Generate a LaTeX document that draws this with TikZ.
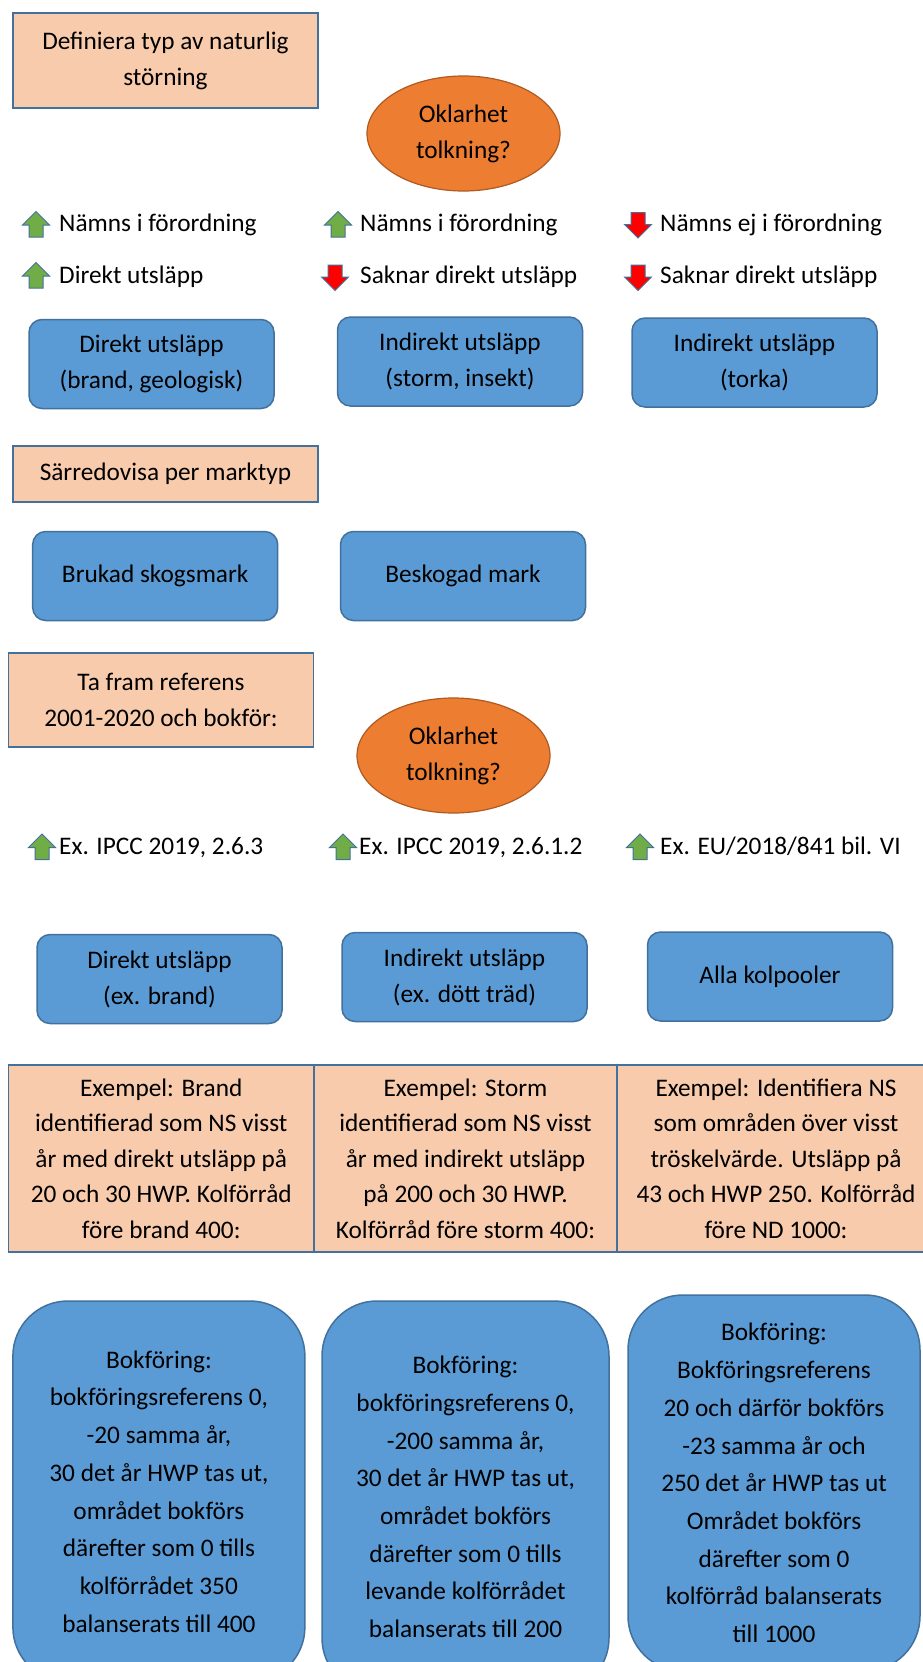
\documentclass[tikz,border=0pt]{standalone}
\usepackage{fontspec}
\setmainfont{Carlito}
\usetikzlibrary{shapes.geometric}

\definecolor{tanfill}{HTML}{F8CBAD}
\definecolor{blueline}{HTML}{41719C}
\definecolor{bluefill}{HTML}{5B9BD5}
\definecolor{orangefill}{HTML}{ED7D31}
\definecolor{orangeline}{HTML}{AE5A21}
\definecolor{greenfill}{HTML}{70AD47}
\definecolor{redfill}{HTML}{FF0000}

\begin{document}
\begin{tikzpicture}[x=1pt,y=-1pt,
    every node/.style={font=\fontsize{25.3}{36}\selectfont,align=center,inner sep=0pt,text=black},
    icon/.style={draw=blueline,line width=1pt,line join=miter}]

      \useasboundingbox[fill=white] (0,0) rectangle (923,1662);
      \clip (0,0) rectangle (923,1662);

      \begin{scope}[every node/.append style={rectangle,draw=blueline,fill=tanfill,line width=1.8pt,minimum width=305pt}]
        \node[minimum height=95pt] (define)    at (165.4,60.6) {Definiera typ av naturlig\\störning};
        \node[minimum height=56pt] (split)     at (165.4,473.8) {Särredovisa per marktyp};
        \node[minimum height=94pt] (reference) at (161,700) {Ta fram referens\\2001-2020 och bokför:};
      \end{scope}

      \begin{scope}[every node/.append style={ellipse,draw=orangeline,fill=orangefill,line width=1.2pt,minimum width=193pt,minimum height=115pt}]
        \node (unclear1) at (463.5,133.5) {Oklarhet\\tolkning?};
        \node (unclear2) at (453.5,755.5) {Oklarhet\\tolkning?};
      \end{scope}

      \foreach \x/\y in {36/224.5, 338/224.5, 36/275.5, 42/847, 343/847, 640/847}
        \draw[icon,fill=greenfill] (\x,\y) ++(0,-13) -- ++(13.5,13.5) -- ++(-6.5,0) -- ++(0,12) -- ++(-14,0) -- ++(0,-12) -- ++(-6.5,0) -- cycle;
      \foreach \x/\y in {638/225, 335/277.5, 638/277.5}
        \draw[icon,fill=redfill] (\x,\y) ++(0,13) -- ++(13.5,-13.5) -- ++(-6.5,0) -- ++(0,-12) -- ++(-14,0) -- ++(0,12) -- ++(-6.5,0) -- cycle;

      \begin{scope}[every node/.append style={anchor=west,text height=17pt,text depth=5pt}]
        \node (mention1) at (59,225.5) {Nämns i förordning};
        \node (mention2) at (360,225.5) {Nämns i förordning};
        \node (mention3) at (660,225.5) {Nämns ej i förordning};
        \node (direct1)  at (59,277.5) {Direkt utsläpp};
        \node (direct2)  at (360,277.5) {Saknar direkt utsläpp};
        \node (direct3)  at (660,277.5) {Saknar direkt utsläpp};
        \node (source1)  at (59,848) {Ex. IPCC 2019, 2.6.3};
        \node (source2)  at (359,848) {Ex. IPCC 2019, 2.6.1.2};
        \node (source3)  at (660,848) {Ex. EU/2018/841 bil. VI};
      \end{scope}

      \begin{scope}[every node/.append style={rectangle,rounded corners=13pt,draw=blueline,fill=bluefill,line width=1.5pt,minimum width=245pt,minimum height=89pt}]
        \node (direct)   at (151.5,364) {Direkt utsläpp\\(brand, geologisk)};
        \node (indirect) at (460,361.5) {Indirekt utsläpp\\(storm, insekt)};
        \node (drought)  at (754.5,362.5) {Indirekt utsläpp\\(torka)};
        \node (managed)  at (155.2,576) {Brukad skogsmark};
        \node (afforest) at (463,576) {Beskogad mark};
        \node (fire)     at (159.5,979) {Direkt utsläpp\\(ex. brand)};
        \node (deadwood) at (464.5,977) {Indirekt utsläpp\\(ex. dött träd)};
        \node (pools)    at (770,976.5) {Alla kolpooler};
      \end{scope}

      \begin{scope}[every node/.append style={rectangle,draw=blueline,fill=tanfill,line width=1.5pt,minimum height=187pt,font=\fontsize{25.3}{35.5}\selectfont}]
        \node[minimum width=305.5pt] (exfire)  at (161.25,1158.5) {Exempel: Brand\\identifierad som NS visst\\år med direkt utsläpp på\\20 och 30 HWP. Kolförråd\\före brand 400:};
        \node[minimum width=303pt]   (exstorm) at (465.5,1158.5) {Exempel: Storm\\identifierad som NS visst\\år med indirekt utsläpp\\på 200 och 30 HWP.\\Kolförråd före storm 400:};
        \node[minimum width=318pt]   (exns)    at (776,1158.5) {Exempel: Identifiera NS\\som områden över visst\\tröskelvärde. Utsläpp på\\43 och HWP 250. Kolförråd\\före ND 1000:};
      \end{scope}

      \begin{scope}[every node/.append style={rectangle,rounded corners=55pt,draw=blueline,fill=bluefill,line width=1.5pt,font=\fontsize{25.3}{37.7}\selectfont}]
        \node[minimum width=292pt,minimum height=381pt] (bookfire)  at (158.9,1491.5) {Bokföring:\\bokföringsreferens 0,\\-20 samma år,\\30 det år HWP tas ut,\\området bokförs\\därefter som 0 tills\\kolförrådet 350\\balanserats till 400};
        \node[minimum width=287pt,minimum height=392pt] (bookstorm) at (465.5,1497) {Bokföring:\\bokföringsreferens 0,\\-200 samma år,\\30 det år HWP tas ut,\\området bokförs\\därefter som 0 tills\\levande kolförrådet\\balanserats till 200};
        \node[minimum width=292pt,minimum height=376pt] (bookns)    at (774,1483) {Bokföring:\\Bokföringsreferens\\20 och därför bokförs\\-23 samma år och\\250 det år HWP tas ut\\Området bokförs\\därefter som 0\\kolförråd balanserats\\till 1000};
      \end{scope}

    \end{tikzpicture}
\end{document}
